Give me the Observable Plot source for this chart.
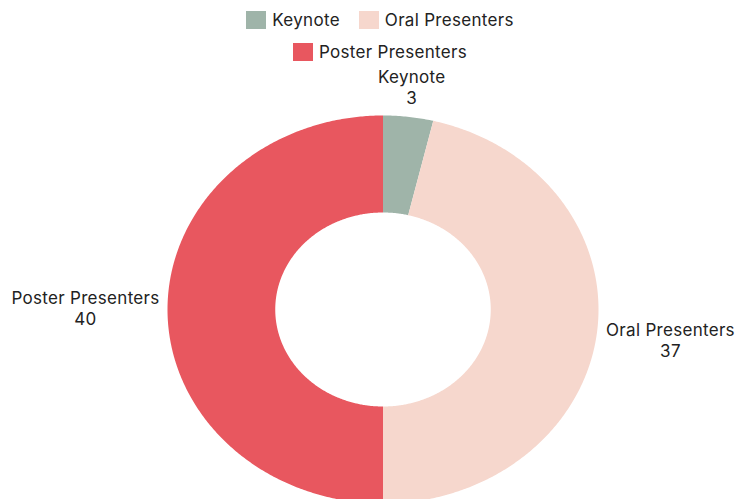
<!DOCTYPE html>
<html><head><meta charset="utf-8">
<script src="https://cdn.jsdelivr.net/npm/d3@7"></script>
<script src="https://cdn.jsdelivr.net/npm/@observablehq/plot@0.6"></script>
<style>
body{margin:0;background:#fff;font-family:Inter, sans-serif;}
#legend{position:relative;height:60px;}
#legend .wrap{position:absolute;left:228px;top:4px;width:304px;display:flex;flex-wrap:wrap;justify-content:center;column-gap:19px;}
.item{display:flex;align-items:center;height:32px;font-size:17px;letter-spacing:0.3px;color:#222;}
.sw{width:20px;height:18px;margin-right:6px;}
</style></head><body>
<div id="legend"><div class="wrap"></div></div>
<div id="chart"></div>
<script>
const categories = ["Keynote", "Oral Presenters", "Poster Presenters"];
const values = [3, 37, 40];
const colors = ["#9FB4A9", "#F6D7CD", "#E8575F"];

const FONT_FAMILY = "Inter";
const FONT_SIZE = 17;
const LETTER_SPACING = 0.3;
const textColor = "#222";

// legend
const wrap = document.querySelector("#legend .wrap");
categories.forEach((c, i) => {
  const it = document.createElement("div");
  it.className = "item";
  const sw = document.createElement("span");
  sw.className = "sw";
  sw.style.background = colors[i];
  it.appendChild(sw);
  it.appendChild(document.createTextNode(c));
  wrap.appendChild(it);
});

// slices
const total = d3.sum(values);
let acc = 0;
const slices = categories.map((c, i) => {
  const a0 = acc / total * 2 * Math.PI;
  acc += values[i];
  const a1 = acc / total * 2 * Math.PI;
  return {c, v: values[i], a0, a1};
});
const inner = 0.5, outer = 1;
const pts = [];
for (const s of slices) {
  const n = Math.max(2, Math.ceil((s.a1 - s.a0) / (Math.PI / 360)));
  for (let k = 0; k <= n; k++) {
    const a = s.a0 + (s.a1 - s.a0) * k / n;
    pts.push({c: s.c, x: outer * Math.sin(a), y: outer * Math.cos(a)});
  }
  for (let k = n; k >= 0; k--) {
    const a = s.a0 + (s.a1 - s.a0) * k / n;
    pts.push({c: s.c, x: inner * Math.sin(a), y: inner * Math.cos(a)});
  }
}

// label placement: block set just outside the ring along the mid-angle ray
const xRange = [167, 598], yRange = [443, 55];
const kx = 2 / (xRange[1] - xRange[0]), ky = 2 / (yRange[0] - yRange[1]);
const ctx = document.createElement("canvas").getContext("2d");
ctx.font = `${FONT_SIZE}px "${FONT_FAMILY}"`;
const gap = 8, blockH = 34;
const labels = slices.map(s => {
  const a = (s.a0 + s.a1) / 2;
  const w = ctx.measureText(s.c).width + LETTER_SPACING * s.c.length;
  const sx = Math.sin(a), cy = Math.cos(a);
  const support = Math.abs(sx) * w / 2 + Math.abs(cy) * blockH / 2;
  const off = gap + support;
  return {
    c: s.c, v: String(s.v),
    lx: sx + sx * off * kx,
    ly: cy + cy * off * ky
  };
});

const chart = Plot.plot({
  width: 737,
  height: 439,
  style: {fontFamily: FONT_FAMILY, background: "#fff", letterSpacing: LETTER_SPACING + "px"},
  x: {domain: [-1, 1], range: xRange, axis: null},
  y: {domain: [-1, 1], range: yRange, axis: null},
  color: {domain: categories, range: colors},
  marks: [
    Plot.line(pts, {x: "x", y: "y", z: "c", fill: "c", stroke: "none"}),
    Plot.text(labels, {x: "lx", y: "ly", text: "c", dy: -10.5, fontSize: FONT_SIZE, fill: textColor}),
    Plot.text(labels, {x: "lx", y: "ly", text: "v", dy: 10.5, fontSize: FONT_SIZE, fill: textColor})
  ]
});
document.getElementById("chart").appendChild(chart);
</script>
</body></html>
